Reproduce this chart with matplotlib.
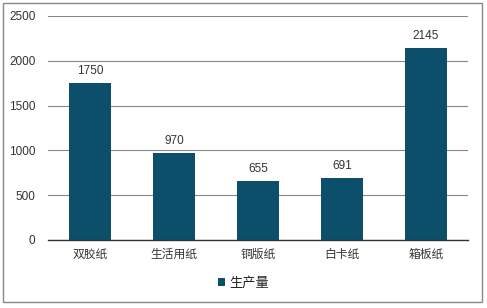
import matplotlib
matplotlib.use("Agg")
import matplotlib.pyplot as plt
from matplotlib.patches import Rectangle

plt.rcParams['font.family'] = ['Noto Sans CJK SC', 'DejaVu Sans']

categories = ['双胶纸', '生活用纸', '铜版纸', '白卡纸', '箱板纸']
production = [1750, 970, 655, 691, 2145]
yticks = [0, 500, 1000, 1500, 2000, 2500]
series_name = '生产量'

bar_color = '#0B4F6A'
text_color = '#333333'
num_font = ['Liberation Sans', 'DejaVu Sans']

fig = plt.figure(figsize=(4.87, 3.08), dpi=100)
W, H = 487, 308
ax = fig.add_axes([48 / W, 1 - 240 / H, (468 - 48) / W, (240 - 16) / H])

x = range(len(categories))
bars = ax.bar(x, production, width=0.5, color=bar_color, zorder=3)
for xi, v in zip(x, production):
    ax.text(xi, v + 70, str(v), ha='center', va='bottom', fontsize=8.5,
            color=text_color, family=num_font)

ax.set_xlim(-0.5, len(categories) - 0.5)
ax.set_ylim(0, 2500)
ax.set_yticks(yticks)
ax.set_yticklabels([str(t) for t in yticks], fontsize=8.5, color=text_color,
                   family=num_font)
ax.set_xticks(list(x))
ax.set_xticklabels(categories, fontsize=8.5, color=text_color)
ax.tick_params(axis='both', length=0, pad=6)
ax.tick_params(axis='y', pad=9)
ax.yaxis.grid(True, color='#888888', linewidth=0.8, zorder=0)
for s in ['top', 'right', 'left']:
    ax.spines[s].set_visible(False)
ax.spines['bottom'].set_color('#333333')
ax.spines['bottom'].set_linewidth(1.0)
ax.spines['bottom'].set_zorder(4)

# legend
leg = ax.legend([bars], [series_name], loc='center', bbox_to_anchor=(0.5, 1 - 283 / H),
                bbox_transform=fig.transFigure, frameon=False, fontsize=9.5,
                handlelength=0.55, handleheight=0.55, handletextpad=0.3)
for t in leg.get_texts():
    t.set_color('#222222')

# outer frame
fig.patches.append(Rectangle((3 / W, 1 - 302 / H), (482 - 3) / W, (302 - 3) / H,
                             transform=fig.transFigure, fill=False,
                             edgecolor='#888888', linewidth=1.0))

fig.savefig('out.png', dpi=100)
